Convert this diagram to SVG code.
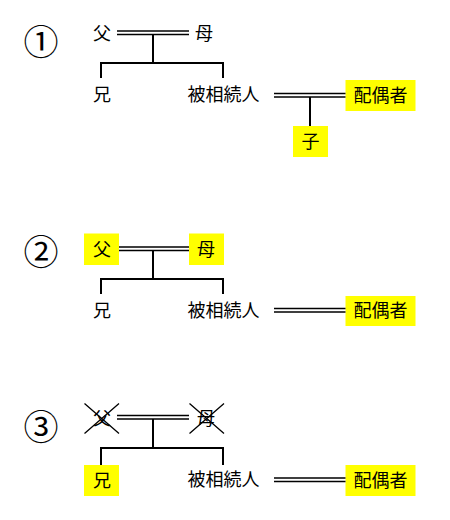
<svg xmlns="http://www.w3.org/2000/svg" width="450" height="520" viewBox="0 0 450 520">
<style>
text{font-family:"Noto Sans CJK JP","Noto Sans CJK SC",sans-serif;fill:#000;text-anchor:middle}
.lb{font-size:18px}
.num{font-size:35px}
.hl{fill:#ffff00}
.dl{stroke:#000;stroke-width:1.6;fill:none}
.ln{stroke:#000;stroke-width:2;fill:none}
.x{stroke:#000;stroke-width:1.3;fill:none}
</style>
<rect width="450" height="520" fill="#fff"/>
<!-- Section 1 -->
<g id="n1-label"><text class="num" x="41" y="55">①</text></g>
<g id="n1-father"><text class="lb" x="102" y="39.5">父</text></g>
<g id="n1-mother"><text class="lb" x="204" y="39.5">母</text></g>
<g id="n1-brother"><text class="lb" x="102" y="100.5">兄</text></g>
<g id="n1-deceased"><text class="lb" x="223.5" y="101">被相続人</text></g>
<g id="n1-spouse"><rect class="hl" x="345.5" y="80" width="70" height="31"/><text class="lb" x="380.5" y="101.5">配偶者</text></g>
<g id="n1-child"><rect class="hl" x="293" y="126" width="35" height="31"/><text class="lb" x="310.5" y="147.5">子</text></g>
<!-- Section 2 -->
<g id="n2-label"><text class="num" x="41" y="265">②</text></g>
<g id="n2-father"><rect class="hl" x="84" y="233.5" width="35" height="31.5"/><text class="lb" x="102" y="255.5">父</text></g>
<g id="n2-mother"><rect class="hl" x="189" y="233.5" width="35" height="31.5"/><text class="lb" x="206" y="255.5">母</text></g>
<g id="n2-brother"><text class="lb" x="102" y="316.5">兄</text></g>
<g id="n2-deceased"><text class="lb" x="223.5" y="317">被相続人</text></g>
<g id="n2-spouse"><rect class="hl" x="345.5" y="296" width="70" height="30"/><text class="lb" x="380.5" y="317">配偶者</text></g>
<!-- Section 3 -->
<g id="n3-label"><text class="num" x="41" y="439.5">③</text></g>
<g id="n3-father"><text class="lb" x="102" y="424.5">父</text><path class="x" d="M84.5 403.5L119 433.5M119 403.5L84.5 433.5"/></g>
<g id="n3-mother"><text class="lb" x="206" y="424.5">母</text><path class="x" d="M189.5 403.5L224 433.5M224 403.5L189.5 433.5"/></g>
<g id="n3-brother"><rect class="hl" x="84" y="465" width="35" height="31"/><text class="lb" x="102" y="487">兄</text></g>
<g id="n3-deceased"><text class="lb" x="223.5" y="486">被相続人</text></g>
<g id="n3-spouse"><rect class="hl" x="345.5" y="465" width="70" height="31"/><text class="lb" x="380.5" y="486.5">配偶者</text></g>
<!-- Connectors -->
<g id="connectors">
<path class="dl" d="M117 31H189M117 34.5H189"/>
<path class="ln" d="M153 34.5V63M100 63H224M101 62V78M223 62V78"/>
<path class="dl" d="M274 93.5H345.5M274 97H345.5"/>
<path class="ln" d="M310 97V126"/>
<path class="dl" d="M119 247H189M119 250.5H189"/>
<path class="ln" d="M153 250.5V279M100 279H224M101 278V294M223 278V294"/>
<path class="dl" d="M274 308.5H345.5M274 312H345.5"/>
<path class="dl" d="M117 415.5H189M117 419H189"/>
<path class="ln" d="M153 419V448M100 448H224M101 447V465M223 447V465"/>
<path class="dl" d="M274 478H345.5M274 481.5H345.5"/>
</g>
</svg>
